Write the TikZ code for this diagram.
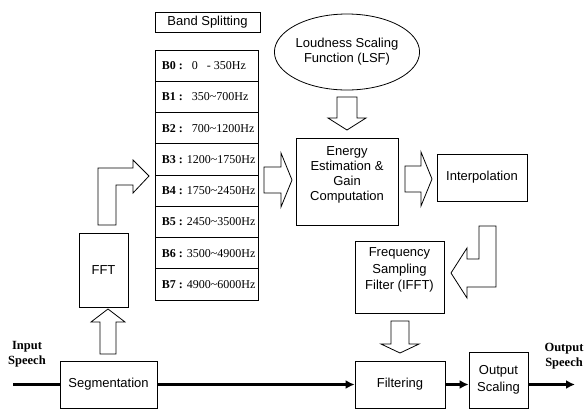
\documentclass[tikz,border=0pt]{standalone}
\usepackage{fontspec}
\setmainfont{Liberation Sans}
\newfontfamily\serifb{Liberation Serif}
\usetikzlibrary{arrows.meta,shapes.geometric,calc}
\begin{document}
\begin{tikzpicture}[x=1pt,y=-1pt,
  box/.style={draw, line width=0.8pt, rectangle, inner sep=0pt, align=center,
    font=\fontsize{13}{15}\selectfont},
  txt/.style={inner sep=0pt, align=center},
  band/.style={draw, line width=0.7pt, minimum width=103pt, minimum height=31.25pt, inner sep=0pt},
  bandtxt/.style={anchor=west, inner sep=0pt, xshift=7pt, font=\serifb\fontsize{12}{14}\selectfont},
  barrow/.style={draw, line width=0.8pt, fill=white, line join=miter},
  flow/.style={line width=2.6pt, -{Latex[length=9pt,width=9pt]}},
  speech/.style={font=\serifb\bfseries\fontsize{12.5}{15}\selectfont, align=center, inner sep=0pt}]
\useasboundingbox (0,0) rectangle (586,410);

% boxes
\node[box, minimum width=105pt, minimum height=20pt] (bs) at (207.5,22) {Band Splitting};
\node[draw, line width=0.8pt, ellipse, inner sep=0pt, minimum width=142pt, minimum height=76pt,
  align=center, font=\fontsize{13}{15}\selectfont] (lsf) at (347,52) {Loudness Scaling\\Function (LSF)};
\node[box, minimum width=102pt, minimum height=87pt] (en) at (347,181.5) {};
\node[txt, font=\fontsize{13}{14.8}\selectfont] (ent) at (347,175) {Energy\\Estimation \&\\Gain\\Computation};
\node[box, minimum width=90pt, minimum height=47pt] (ip) at (482,177.5) {Interpolation};
\node[box, minimum width=89pt, minimum height=72pt] (fsf) at (399.5,277) {};
\node[txt, font=\fontsize{13}{16.5}\selectfont] (fsft) at (399.5,270) {Frequency\\Sampling\\Filter (IFFT)};
\node[box, minimum width=90pt, minimum height=47pt] (fil) at (400,384.5) {Filtering};
\node[box, minimum width=59pt, minimum height=56pt, font=\fontsize{13}{17}\selectfont] (os) at (498.5,380) {Output\\Scaling};
\node[box, minimum width=97pt, minimum height=47pt] (seg) at (108.5,384.5) {Segmentation};
\node[box, minimum width=49pt, minimum height=74pt] (fft) at (103.5,270) {FFT};

% band table
\node[band] (b0) at (206.5,65.625) {};
\node[band] (b1) at (206.5,96.875) {};
\node[band] (b2) at (206.5,128.125) {};
\node[band] (b3) at (206.5,159.375) {};
\node[band] (b4) at (206.5,190.625) {};
\node[band] (b5) at (206.5,221.875) {};
\node[band] (b6) at (206.5,253.125) {};
\node[band] (b7) at (206.5,284.375) {};
\node[bandtxt] (t0) at (b0.west) {\textbf{B0 :}\ \ \ 0\ \ \ - 350Hz};
\node[bandtxt] (t1) at (b1.west) {\textbf{B1 :}\ \ \ 350\textasciitilde700Hz};
\node[bandtxt] (t2) at (b2.west) {\textbf{B2 :}\ \ \ 700\textasciitilde1200Hz};
\node[bandtxt] (t3) at (b3.west) {\textbf{B3 :} 1200\textasciitilde1750Hz};
\node[bandtxt] (t4) at (b4.west) {\textbf{B4 :} 1750\textasciitilde2450Hz};
\node[bandtxt] (t5) at (b5.west) {\textbf{B5 :} 2450\textasciitilde3500Hz};
\node[bandtxt] (t6) at (b6.west) {\textbf{B6 :} 3500\textasciitilde4900Hz};
\node[bandtxt] (t7) at (b7.west) {\textbf{B7 :} 4900\textasciitilde6000Hz};

% labels
\node[speech] (in) at (27,354.5) {Input\\Speech};
\node[speech] (outl) at (564,356) {Output\\Speech};
\coordinate (src) at (13,384.5);
\coordinate (dst) at (575,384.5);

% block arrows
\draw[barrow] (100,354) -- (100,322) -- (91,322) -- (108,309) -- (125,322) -- (116,322) -- (116,354) -- cycle;
\draw[barrow] (98,225) -- (98,168) -- (133,168) -- (133,160) -- (149,176) -- (133,193) -- (133,185) -- (116,185) -- (116,225) -- cycle;
\draw[barrow] (264,167) -- (281,167) -- (281,153) -- (292,180) -- (281,207) -- (281,193) -- (264,193) -- cycle;
\draw[barrow] (337,97) -- (357,97) -- (357,118) -- (366,118) -- (347,130) -- (328,118) -- (337,118) -- cycle;
\draw[barrow] (405,166) -- (421,166) -- (421,152) -- (432,179) -- (421,206) -- (421,192) -- (405,192) -- cycle;
\draw[barrow] (479,226) -- (496,226) -- (496,287) -- (467,287) -- (467,298) -- (451,273) -- (467,248) -- (467,259) -- (479,259) -- cycle;
\draw[barrow] (391,321) -- (409,321) -- (409,344) -- (419,344) -- (400,353) -- (381,344) -- (391,344) -- cycle;

% signal path
\draw[line width=2.6pt] (src) -- (seg.west);
\draw[flow] (seg.east) -- (fil.west);
\draw[flow] (fil.east) -- (fil.east -| os.west);
\draw[flow] (os.east |- fil.east) -- (dst);
\end{tikzpicture}
\end{document}
